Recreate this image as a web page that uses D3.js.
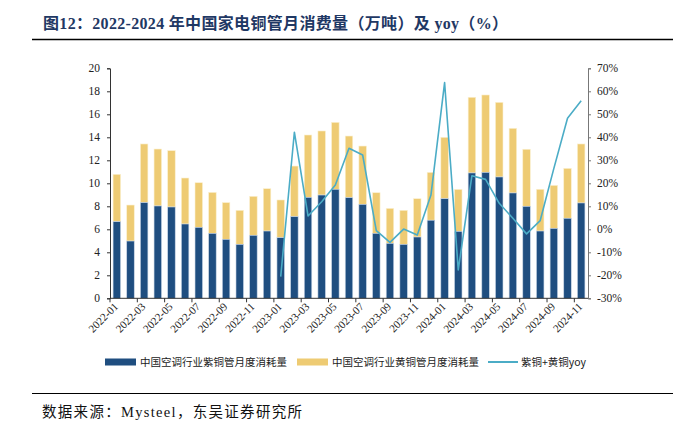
<!DOCTYPE html>
<html>
<head>
<meta charset="utf-8">
<script src="https://cdn.jsdelivr.net/npm/d3@7"></script>
<style>
  body { margin: 0; background: #fff; }
  svg text { font-family: "Liberation Serif", "Times New Roman", "Noto Sans CJK SC", serif; }
</style>
</head>
<body>
<div id="chart"></div>
<script>
// 月份
const months = [
  "2022-01","2022-02","2022-03","2022-04","2022-05","2022-06","2022-07","2022-08","2022-09","2022-10","2022-11","2022-12",
  "2023-01","2023-02","2023-03","2023-04","2023-05","2023-06","2023-07","2023-08","2023-09","2023-10","2023-11","2023-12",
  "2024-01","2024-02","2024-03","2024-04","2024-05","2024-06","2024-07","2024-08","2024-09","2024-10","2024-11"
];
// 紫铜管月度消耗量（万吨）
const purple = [
  6.66, 4.98, 8.32, 8.03, 7.94, 6.46, 6.17, 5.65, 5.13, 4.69, 5.48, 5.85,
  5.27, 7.10, 8.78, 8.98, 9.48, 8.75, 8.17, 5.65, 4.78, 4.69, 5.33, 6.79,
  8.66, 5.82, 10.90, 10.95, 10.55, 9.16, 8.00, 5.85, 6.08, 6.96, 8.29
];
// 紫铜 + 黄铜 合计（万吨）
const total = [
  10.78, 8.11, 13.42, 12.98, 12.84, 10.46, 10.05, 9.21, 8.32, 7.65, 8.87, 9.53,
  8.55, 11.50, 14.20, 14.55, 15.30, 14.11, 13.24, 9.18, 7.82, 7.65, 8.66, 10.95,
  14.00, 9.47, 17.48, 17.68, 17.04, 14.78, 12.96, 9.48, 9.82, 11.30, 13.42
];
// yoy（%），从2023-01开始
const yoy = [
  null, null, null, null, null, null, null, null, null, null, null, null,
  -20.6, 42.2, 5.8, 12.0, 19.3, 35.2, 32.3, -0.6, -5.7, 0.1, -2.5, 14.9,
  63.8, -17.7, 23.3, 21.7, 11.3, 4.8, -2.0, 3.8, 26.5, 48.3, 55.9
];
const leftTicks = [0, 2, 4, 6, 8, 10, 12, 14, 16, 18, 20];
const rightTicks = [-30, -20, -10, 0, 10, 20, 30, 40, 50, 60, 70];

const W = 682, H = 424;
const m = { left: 110, right: 588, top: 68.3, bottom: 298.3 };
const navy = "#1f4e80", gold = "#eecb73", cyan = "#4bacc6", titleCol = "#1f3864";

const svg = d3.select("#chart").append("svg")
  .attr("width", W).attr("height", H);

// 标题
svg.append("text")
  .attr("x", 43).attr("y", 29)
  .attr("font-size", 16).attr("font-weight", "bold")
  .attr("fill", titleCol)
  .attr("textLength", 465).attr("lengthAdjust", "spacing")
  .text("图12：2022-2024 年中国家电铜管月消费量（万吨）及 yoy（%）");
svg.append("line")
  .attr("x1", 32).attr("x2", 673).attr("y1", 39.5).attr("y2", 39.5)
  .attr("stroke", "#000").attr("stroke-width", 1.5);

const x = d3.scaleBand().domain(months).range([m.left, m.right]).paddingInner(0.45).paddingOuter(0.225);
const y = d3.scaleLinear().domain([0, 20]).range([m.bottom, m.top]);
const y2 = d3.scaleLinear().domain([-30, 70]).range([m.bottom, m.top]);

// 柱子
const g = svg.append("g");
g.selectAll(".tot").data(months).enter().append("rect")
  .attr("x", d => x(d)).attr("width", x.bandwidth())
  .attr("y", (d, i) => y(total[i]))
  .attr("height", (d, i) => y(purple[i]) - y(total[i]))
  .attr("fill", gold).attr("stroke", "#fbf0d0").attr("stroke-width", 0.6);
g.selectAll(".pur").data(months).enter().append("rect")
  .attr("x", d => x(d)).attr("width", x.bandwidth())
  .attr("y", (d, i) => y(purple[i]))
  .attr("height", (d, i) => y(0) - y(purple[i]))
  .attr("fill", navy).attr("stroke", "#c9d6e6").attr("stroke-width", 0.6);

// yoy 折线
const line = d3.line()
  .defined(d => d[1] != null)
  .x(d => x(d[0]) + x.bandwidth() / 2)
  .y(d => y2(d[1]));
svg.append("path")
  .datum(months.map((d, i) => [d, yoy[i]]))
  .attr("d", line)
  .attr("fill", "none").attr("stroke", cyan).attr("stroke-width", 1.6)
  .attr("stroke-linejoin", "round");

// 左轴
const yAxis = svg.append("g").attr("transform", `translate(${m.left},0)`)
  .call(d3.axisLeft(y).tickValues(leftTicks).tickSize(3).tickPadding(7));
yAxis.select(".domain").attr("stroke", "#333");
yAxis.selectAll("line").attr("stroke", "#333");
yAxis.selectAll("text").attr("font-size", 11.5).attr("fill", "#222")
  .style("font-family", "'Liberation Serif', serif");

// 右轴
const y2Axis = svg.append("g").attr("transform", `translate(${m.right},0)`)
  .call(d3.axisRight(y2).tickValues(rightTicks).tickSize(3).tickPadding(6).tickFormat(d => d + "%"));
y2Axis.select(".domain").attr("stroke", "#777");
y2Axis.selectAll("line").attr("stroke", "#777");
y2Axis.selectAll("text").attr("font-size", 11.5).attr("fill", "#222")
  .style("font-family", "'Liberation Serif', serif");

// x轴
svg.append("line")
  .attr("x1", m.left).attr("x2", m.right).attr("y1", m.bottom).attr("y2", m.bottom)
  .attr("stroke", "#333");
const step = x.step();
const tickIdx = d3.range(0, months.length + 1, 2);
svg.selectAll(".xt").data(tickIdx).enter().append("line")
  .attr("x1", i => m.left + i * step).attr("x2", i => m.left + i * step)
  .attr("y1", m.bottom).attr("y2", m.bottom + 4)
  .attr("stroke", "#333");
svg.selectAll(".xl").data(months.filter((d, i) => i % 2 === 0)).enter().append("text")
  .attr("transform", d => `translate(${x(d) + x.bandwidth() / 2 + 2},${m.bottom + 9}) rotate(-45)`)
  .attr("text-anchor", "end")
  .attr("font-size", 11).attr("fill", "#222")
  .style("font-family", "'Liberation Serif', serif")
  .text(d => d);

// 图例
const legend = [
  { type: "rect", color: navy, label: "中国空调行业紫铜管月度消耗量", x: 105 },
  { type: "rect", color: gold, label: "中国空调行业黄铜管月度消耗量", x: 297 },
  { type: "line", color: cyan, label: "紫铜+黄铜yoy", x: 488 }
];
const lg = svg.append("g").selectAll("g").data(legend).enter().append("g")
  .attr("transform", d => `translate(${d.x},362)`);
lg.filter(d => d.type === "rect").append("rect")
  .attr("x", 0).attr("y", -3.5).attr("width", 31).attr("height", 7).attr("fill", d => d.color);
lg.filter(d => d.type === "line").append("line")
  .attr("x1", 0).attr("x2", 30).attr("y1", 0).attr("y2", 0)
  .attr("stroke", d => d.color).attr("stroke-width", 2);
lg.append("text")
  .attr("x", d => d.type === "rect" ? 35 : 33).attr("y", 3.8)
  .attr("font-size", 10.5).attr("fill", "#222")
  .style("font-family", "'Noto Sans CJK SC', sans-serif")
  .text(d => d.label);

// 数据来源
svg.append("line")
  .attr("x1", 32).attr("x2", 673).attr("y1", 393.5).attr("y2", 393.5)
  .attr("stroke", "#000").attr("stroke-width", 1.2);
svg.append("text")
  .attr("x", 42).attr("y", 416.5)
  .attr("font-size", 14.5).attr("fill", "#111")
  .attr("textLength", 260).attr("lengthAdjust", "spacing")
  .text("数据来源：Mysteel，东吴证券研究所");
</script>
</body>
</html>
